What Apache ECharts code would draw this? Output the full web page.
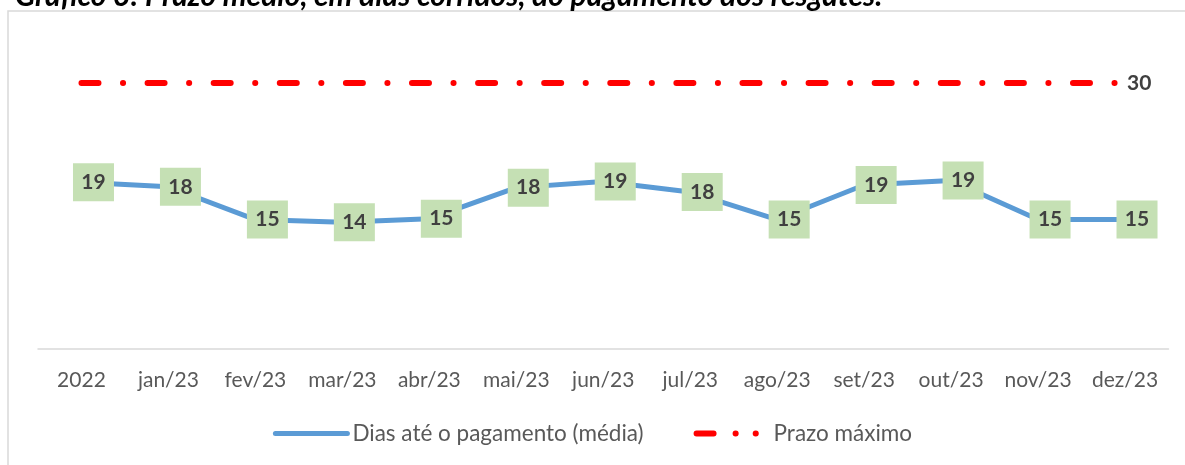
<!DOCTYPE html>
<html>
<head>
<meta charset="utf-8">
<script src="https://cdn.jsdelivr.net/npm/echarts@6/dist/echarts.min.js"></script>
<style>
  html, body { margin: 0; padding: 0; background: #fff; }
  #chart { width: 1185px; height: 465px; }
</style>
</head>
<body>
<div id="chart"></div>
<script>
// categorias e valores
const meses = ['2022', 'jan/23', 'fev/23', 'mar/23', 'abr/23', 'mai/23', 'jun/23',
  'jul/23', 'ago/23', 'set/23', 'out/23', 'nov/23', 'dez/23']
const diasPagamento = [18.8, 18.3, 14.6, 14.3, 14.7, 18.2, 18.9, 17.7, 14.6, 18.5, 19.0, 14.6, 14.6]
const prazoMaximo = [30, 30, 30, 30, 30, 30, 30, 30, 30, 30, 30, 30, 30]

const fonte = 'Lato, "Noto Sans", sans-serif'

let myChart = echarts.init(document.getElementById('chart'))
let option = {
  animation: false,
  title: {
    text: 'Gráfico 3: Prazo médio, em dias corridos, do pagamento dos resgates.',
    left: 10,
    top: -24,
    textStyle: {
      fontFamily: fonte,
      fontSize: 30,
      fontWeight: 'bold',
      fontStyle: 'italic',
      color: '#000'
    }
  },
  // moldura do gráfico
  graphic: [{
    type: 'rect',
    shape: { x: 8, y: 11, width: 1300, height: 600 },
    style: { fill: 'none', stroke: '#d9d9d9', lineWidth: 1.5 },
    silent: true
  }],
  grid: {
    left: 38,
    right: 16.5,
    top: 83,
    bottom: 116
  },
  legend: {
    bottom: 15,
    left: 'center',
    itemWidth: 72,
    itemHeight: 12,
    itemGap: 50,
    itemStyle: { opacity: 0 },
    lineStyle: { width: 5 },
    textStyle: { fontFamily: fonte, fontSize: 22.5, color: '#595959' },
    data: [
      { name: 'Dias até o pagamento (média)' },
      { name: 'Prazo máximo', lineStyle: { width: 6, type: [17, 22, 0.1, 20, 0.1, 100], cap: 'round' } }
    ]
  },
  xAxis: {
    type: 'category',
    data: meses,
    boundaryGap: true,
    axisTick: { show: false },
    axisLine: { lineStyle: { color: '#d9d9d9', width: 1.5 } },
    axisLabel: { fontFamily: fonte, fontSize: 21, color: '#595959', margin: 21, interval: 0 }
  },
  yAxis: {
    type: 'value',
    min: 0,
    max: 30,
    show: false,
    splitLine: { show: false }
  },
  series: [
    {
      name: 'Dias até o pagamento (média)',
      type: 'line',
      data: diasPagamento,
      symbol: 'circle',
      symbolSize: 1,
      color: '#5b9bd5',
      lineStyle: { width: 5, color: '#5b9bd5', cap: 'round' },
      label: {
        show: true,
        position: 'inside',
        offset: [12, 0],
        formatter: p => Math.round(p.value),
        backgroundColor: '#c5e0b4',
        width: 41,
        height: 38,
        lineHeight: 38,
        align: 'center',
        verticalAlign: 'middle',
        fontFamily: fonte,
        fontSize: 21,
        fontWeight: 'bold',
        color: '#404040'
      },
      z: 3
    },
    {
      name: 'Prazo máximo',
      type: 'line',
      data: prazoMaximo,
      symbol: 'none',
      color: '#ff0000',
      lineStyle: {
        width: 6,
        color: '#ff0000',
        type: [17, 24.5, 0.1, 24.5],
        cap: 'round'
      },
      endLabel: {
        show: true,
        formatter: '30',
        distance: 2,
        fontFamily: fonte,
        fontSize: 21,
        fontWeight: 'bold',
        color: '#404040'
      },
      z: 2
    }
  ]
}
myChart.setOption(option)
window.addEventListener('resize', function () {
  myChart.resize()
})
</script>
</body>
</html>
